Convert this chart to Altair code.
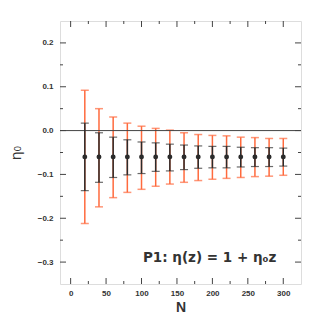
import altair as alt
import pandas as pd

N = [20, 40, 60, 80, 100, 120, 140, 160, 180, 200, 220, 240, 260, 280, 300]
eta0 = [-0.060, -0.060, -0.060, -0.060, -0.060, -0.060, -0.060, -0.060,
        -0.060, -0.060, -0.060, -0.060, -0.060, -0.060, -0.060]
black_hi = [0.017, -0.005, -0.015, -0.021, -0.026, -0.028, -0.031, -0.033,
            -0.035, -0.036, -0.036, -0.038, -0.039, -0.039, -0.040]
black_lo = [-0.137, -0.118, -0.107, -0.101, -0.098, -0.093, -0.092, -0.089,
            -0.086, -0.085, -0.085, -0.083, -0.082, -0.082, -0.081]
orange_hi = [0.092, 0.050, 0.031, 0.017, 0.010, 0.005, 0.001, -0.005,
             -0.009, -0.011, -0.012, -0.015, -0.016, -0.018, -0.018]
orange_lo = [-0.212, -0.174, -0.153, -0.141, -0.134, -0.127, -0.122, -0.118,
             -0.114, -0.111, -0.109, -0.107, -0.105, -0.104, -0.102]

x_major = [0, 50, 100, 150, 200, 250, 300]
x_minor = [25, 75, 125, 175, 225, 275]
y_major = [-0.3, -0.2, -0.1, 0.0, 0.1, 0.2]
y_minor = [-0.25, -0.15, -0.05, 0.05, 0.15]

W, H = 241, 263
FONT = "Liberation Sans"
AX = "#444444"
ORANGE = "#ff6a3d"
BLACK = "#2b2b2b"

df = pd.DataFrame({"N": N, "eta": eta0, "blo": black_lo, "bhi": black_hi,
                   "olo": orange_lo, "ohi": orange_hi})

xs = alt.Scale(domain=[-15, 325], nice=False, zero=False)
ys = alt.Scale(domain=[-0.35, 0.25], nice=False, zero=False)

base = alt.Chart(df)

x_enc = alt.X("N:Q", scale=xs, axis=alt.Axis(values=x_major, ticks=False, domain=False,
              grid=False, labelPadding=5, labelFont=FONT, labelFontWeight="bold",
              labelFontSize=8, labelColor="#333", title="N", titleFont=FONT,
              titleFontSize=14, titleFontWeight="bold", titleColor="#333", titlePadding=3))
y_axis = alt.Axis(values=y_major, format=".1f", ticks=False, domain=False, grid=False,
                  labelPadding=7, labelFont=FONT, labelFontWeight="bold", labelFontSize=8,
                  labelColor="#333", title="η₀", titleFont="DejaVu Sans", titleFontSize=14,
                  titleFontWeight="normal", titleColor="#333", titlePadding=14)

orange_bar = base.mark_rule(color=ORANGE, strokeWidth=1.5).encode(
    x=x_enc, y=alt.Y("olo:Q", scale=ys, axis=y_axis), y2="ohi:Q")
orange_cap_hi = base.mark_tick(color=ORANGE, orient="horizontal", size=8, thickness=1.5).encode(
    x="N:Q", y="ohi:Q")
orange_cap_lo = base.mark_tick(color=ORANGE, orient="horizontal", size=8, thickness=1.5).encode(
    x="N:Q", y="olo:Q")
black_bar = base.mark_rule(color=BLACK, strokeWidth=1.5).encode(
    x="N:Q", y="blo:Q", y2="bhi:Q")
black_cap_hi = base.mark_tick(color=BLACK, orient="horizontal", size=8, thickness=1.2).encode(
    x="N:Q", y="bhi:Q")
black_cap_lo = base.mark_tick(color=BLACK, orient="horizontal", size=8, thickness=1.2).encode(
    x="N:Q", y="blo:Q")
dots = base.mark_point(filled=True, color=BLACK, size=24, opacity=1).encode(
    x="N:Q", y="eta:Q")

zero = alt.Chart(pd.DataFrame({"y": [0.0]})).mark_rule(color=AX, strokeWidth=1).encode(
    y=alt.Y("y:Q", scale=ys))

# inward ticks
def xticks(vals, length):
    d = pd.DataFrame({"x": vals})
    bot = alt.Chart(d).mark_rule(color=AX, strokeWidth=1).encode(
        x=alt.X("x:Q", scale=xs), y=alt.value(H), y2=alt.value(H - length))
    top = alt.Chart(d).mark_rule(color=AX, strokeWidth=1).encode(
        x=alt.X("x:Q", scale=xs), y=alt.value(0), y2=alt.value(length))
    return bot + top

def yticks(vals, length):
    d = pd.DataFrame({"y": vals})
    left = alt.Chart(d).mark_rule(color=AX, strokeWidth=1).encode(
        y=alt.Y("y:Q", scale=ys), x=alt.value(0), x2=alt.value(length))
    right = alt.Chart(d).mark_rule(color=AX, strokeWidth=1).encode(
        y=alt.Y("y:Q", scale=ys), x=alt.value(W), x2=alt.value(W - length))
    return left + right

label = alt.Chart(pd.DataFrame({"x": [102], "y": [-0.29], "t": ["P1: η(z) = 1 + η₀z"]})).mark_text(
    align="left", baseline="middle", font="DejaVu Sans", fontWeight="bold", fontSize=13.5,
    color="#333"
).encode(x=alt.X("x:Q", scale=xs), y=alt.Y("y:Q", scale=ys), text="t:N")

chart = alt.layer(
    orange_bar, orange_cap_hi, orange_cap_lo, zero,
    black_bar, black_cap_hi, black_cap_lo, dots,
    xticks(x_major, 6), xticks(x_minor, 3), yticks(y_major, 6), yticks(y_minor, 3),
    label
).properties(
    width=W, height=H,
    padding={"left": 52, "top": 13, "right": 10, "bottom": 34},
    autosize=alt.AutoSizeParams(type="none"),
).configure_view(stroke=AX, strokeWidth=1.5).configure(background="white")

chart.save("out.html", embed_options={"renderer": "svg", "actions": False})
